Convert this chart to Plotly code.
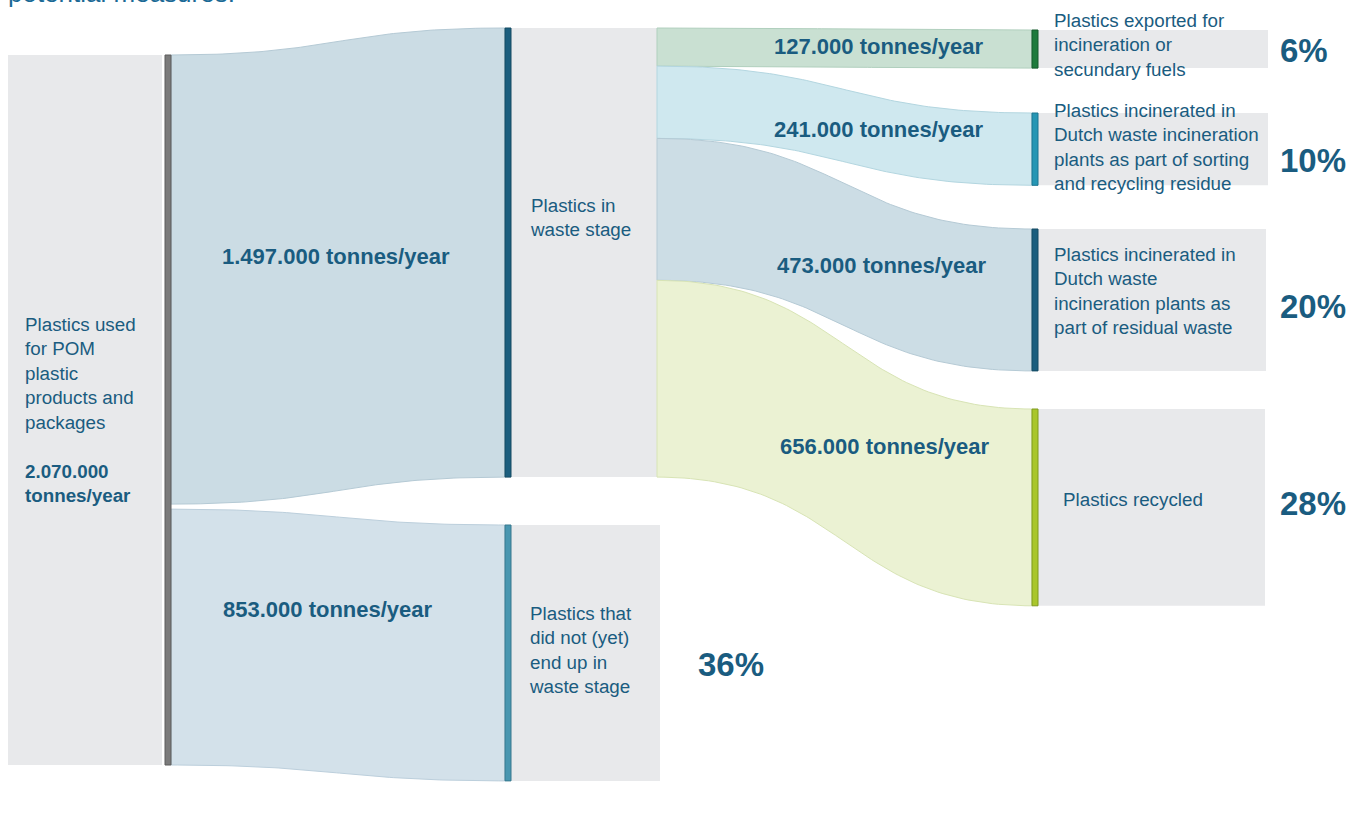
import numpy as np
import plotly.graph_objects as go

# ---------------- data ----------------
node_labels = [
    "Plastics used<br>for POM<br>plastic<br>products and<br>packages",
    "Plastics in<br>waste stage",
    "Plastics that<br>did not (yet)<br>end up in<br>waste stage",
    "Plastics exported for<br>incineration or<br>secundary fuels",
    "Plastics incinerated in<br>Dutch waste incineration<br>plants as part of sorting<br>and recycling residue",
    "Plastics incinerated in<br>Dutch waste<br>incineration plants as<br>part of residual waste",
    "Plastics recycled",
]
link_source = [0, 0, 1, 1, 1, 1]
link_target = [1, 2, 3, 4, 5, 6]
link_tonnes = [1497000, 853000, 127000, 241000, 473000, 656000]
pom_total_tonnes = 2070000
share_nodes = [2, 3, 4, 5, 6]
share_pct = [36, 6, 10, 20, 28]
title_text = "potential measures."

# ---------------- layout / style ----------------
W, H = 1351, 816
PX_PER_KT = 0.30                     # vertical scale: pixels per thousand tonnes
Y_MAX = H / PX_PER_KT                # visible span of the y axis in thousand tonnes

def px2kt(p):
    return p / PX_PER_KT

BAR_W = 6
node_bar_x = [165, 505, 505, 1032, 1032, 1032, 1032]
node_top_px = [55, 28, 525, 30, 113, 229, 409]
node_out_gap_px = [5, 0, 0, 0, 0, 0, 0]
node_box_x = [(8, 162), (511, 657), (511, 660), (1038, 1268), (1038, 1268), (1038, 1266), (1038, 1265)]
node_link_start_x = [171, 657, 660, None, None, None, None]
node_bar_color = ["#7b7b7b", "#1b5e7e", "#4896b0", "#1e7a3c", "#2596b4", "#1b5e7e", "#a9c62b"]
node_bar_line = ["#5c5c5c", "#154a63", "#36788e", "#155a2c", "#1b7590", "#154a63", "#7f9a1f"]
node_label_x = [23, 528, 527, 1052, 1052, 1052, 1061]
node_label_dy = [0, -35, -3, -4, -2, -9, -8]
share_x = {2: 696, 3: 1278, 4: 1278, 5: 1278, 6: 1278}
share_dy = {2: 12, 3: 1, 4: 11, 5: 7, 6: -4}

link_fill = ["#cbdce4", "#d3e1ea", "#c9e0d2", "#cfe8ef", "#ccdde5", "#ebf2d3"]
link_edge = ["#b5cad5", "#bccfdc", "#b0cfbd", "#b3d6e0", "#b5cad5", "#d8e4b5"]
link_label_dx = [-2, -10, 34, 34, 37, 40]
link_label_dy = [-10, -36, -2, 4, 11, 3]

TXT = "#1a5c80"
FONT = "Liberation Sans, Arial, sans-serif"
BOX_COLOR = "#e8e9eb"

def fmt_tonnes(t):
    return f"{t:,}".replace(",", ".")

n_nodes = len(node_labels)
vals_kt = [t / 1000 for t in link_tonnes]

# node extents in thousand tonnes
in_sum = [0.0] * n_nodes
out_sum = [0.0] * n_nodes
n_out = [0] * n_nodes
for s, t, v in zip(link_source, link_target, vals_kt):
    out_sum[s] += v
    in_sum[t] += v
    n_out[s] += 1
node_top = [px2kt(p) for p in node_top_px]
node_size = [max(in_sum[i], out_sum[i] + max(n_out[i] - 1, 0) * px2kt(node_out_gap_px[i]))
             for i in range(n_nodes)]

fig = go.Figure()
shapes = []
annotations = []

# grey label boxes (behind)
for i in range(n_nodes):
    x0, x1 = node_box_x[i]
    shapes.append(dict(type="rect", xref="x", yref="y", x0=x0, x1=x1,
                       y0=node_top[i], y1=node_top[i] + node_size[i],
                       fillcolor=BOX_COLOR, line=dict(width=0), layer="below"))

# links
src_off = [0.0] * n_nodes
tgt_off = [0.0] * n_nodes
tt = np.linspace(0, 1, 80)
for k, (s, t, v) in enumerate(zip(link_source, link_target, vals_kt)):
    xa = node_link_start_x[s]
    xb = node_bar_x[t]
    ya0 = node_top[s] + src_off[s]
    ya1 = ya0 + v
    yb0 = node_top[t] + tgt_off[t]
    yb1 = yb0 + v
    src_off[s] += v + px2kt(node_out_gap_px[s])
    tgt_off[t] += v
    xm = (xa + xb) / 2
    bx = (1 - tt) ** 3 * xa + 3 * (1 - tt) ** 2 * tt * xm + 3 * (1 - tt) * tt ** 2 * xm + tt ** 3 * xb

    def by(y0, y1):
        return (1 - tt) ** 3 * y0 + 3 * (1 - tt) ** 2 * tt * y0 + 3 * (1 - tt) * tt ** 2 * y1 + tt ** 3 * y1

    top = by(ya0, yb0)
    bot = by(ya1, yb1)
    xs = np.concatenate([bx, bx[::-1], bx[:1]])
    ys = np.concatenate([top, bot[::-1], top[:1]])
    fig.add_trace(go.Scatter(x=xs, y=ys, mode="lines", fill="toself",
                             fillcolor=link_fill[k], line=dict(color=link_edge[k], width=1),
                             hoverinfo="skip", showlegend=False))
    ymid = ((ya0 + ya1) / 2 + (yb0 + yb1) / 2) / 2
    annotations.append(dict(x=xm, y=ymid, xref="x", yref="y", showarrow=False,
                            text=f"<b>{fmt_tonnes(link_tonnes[k])} tonnes/year</b>",
                            font=dict(family=FONT, size=22, color=TXT),
                            xshift=link_label_dx[k], yshift=-link_label_dy[k]))

# node bars
for i in range(n_nodes):
    shapes.append(dict(type="rect", xref="x", yref="y", x0=node_bar_x[i], x1=node_bar_x[i] + BAR_W,
                       y0=node_top[i], y1=node_top[i] + node_size[i],
                       fillcolor=node_bar_color[i], line=dict(color=node_bar_line[i], width=1),
                       layer="above"))

# node labels
for i in range(n_nodes):
    txt = node_labels[i]
    if i == 0:
        txt = txt + "<br><br><b>" + fmt_tonnes(pom_total_tonnes) + "<br>tonnes/year</b>"
    annotations.append(dict(x=node_label_x[i], y=node_top[i] + node_size[i] / 2, xref="x", yref="y",
                            xanchor="left", yanchor="middle", align="left", showarrow=False,
                            text=txt, font=dict(family=FONT, size=18.8, color=TXT),
                            yshift=-node_label_dy[i]))

# share percentages
for nd, p in zip(share_nodes, share_pct):
    annotations.append(dict(x=share_x[nd], y=node_top[nd] + node_size[nd] / 2, xref="x", yref="y",
                            xanchor="left", yanchor="middle", showarrow=False,
                            text=f"<b>{p}%</b>", font=dict(family=FONT, size=33, color=TXT),
                            yshift=-share_dy[nd]))

# clipped title remnant at top (the reference shows only its lower edge)
annotations.append(dict(x=6, y=1, xref="x", yref="paper", xanchor="left", yanchor="middle",
                        showarrow=False, text=title_text, yshift=7,
                        font=dict(family=FONT, size=26, color="#1b6a96")))

fig.update_layout(
    width=W, height=H, margin=dict(l=0, r=0, t=0, b=0),
    paper_bgcolor="white", plot_bgcolor="white",
    xaxis=dict(range=[0, W], visible=False, fixedrange=True),
    yaxis=dict(range=[Y_MAX, 0], visible=False, fixedrange=True),
    shapes=shapes, annotations=annotations, showlegend=False,
)

fig.write_html("out.html", include_plotlyjs=True, config={"displayModeBar": False},
               post_script="document.body.style.margin='0';document.body.style.overflow='hidden';")
